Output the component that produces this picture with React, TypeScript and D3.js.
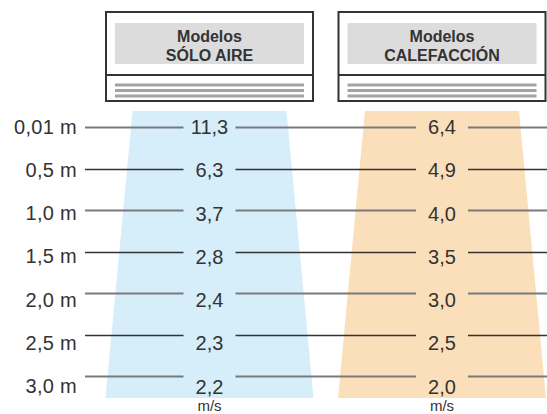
import { scalePoint, formatLocale } from "d3"

const heights = ["0,01 m", "0,5 m", "1,0 m", "1,5 m", "2,0 m", "2,5 m", "3,0 m"]
const models = ["SÓLO AIRE", "CALEFACCIÓN"]
const soloAire = [11.3, 6.3, 3.7, 2.8, 2.4, 2.3, 2.2]
const calefaccion = [6.4, 4.9, 4.0, 3.5, 3.0, 2.5, 2.0]
const unit = "m/s"

const series = [soloAire, calefaccion]
const fills = ["#d6edfa", "#fbdfbb"]

const fmt = formatLocale({
  decimal: ",",
  thousands: ".",
  grouping: [3],
  currency: ["", "€"],
}).format(".1f")

export default function App() {
  const width = 547
  const height = 414
  const font = "'Liberation Sans', Arial, Helvetica, sans-serif"

  const x = scalePoint<string>().domain(models).range([209.5, 442])
  const yLine = scalePoint<string>().domain(heights).range([127, 376])
  const yText = scalePoint<string>().domain(heights).range([126.5, 386])

  const boxW = 207
  const boxTop = 12
  const boxBottom = 101
  const divider = 75
  const inset = 9
  const trapTop = 111
  const trapBottom = 398
  const topHalf = 77
  const bottomHalf = 104
  const gap = 26

  const c0 = x(models[0])!
  const c1 = x(models[1])!
  const segments = [
    [85, c0 - gap],
    [c0 + gap, c1 - gap],
    [c1 + gap, width],
  ]

  return (
    <svg
      width={width}
      height={height}
      style={{ position: "absolute", left: 0, top: 0, display: "block" }}
      fontFamily={font}
    >
      {models.map((m, i) => {
        const cx = x(m)!
        return (
          <path
            key={"trap" + m}
            fill={fills[i]}
            d={`M${cx - topHalf},${trapTop}L${cx + topHalf},${trapTop}L${cx + bottomHalf},${trapBottom}L${cx - bottomHalf},${trapBottom}Z`}
          />
        )
      })}

      {heights.map((h, i) => {
        const y = Math.round(yLine(h)!) + 0.5
        return (
          <g key={"row" + h}>
            {segments.map(([a, b], j) => (
              <line
                key={j}
                x1={a}
                x2={b}
                y1={y}
                y2={y}
                stroke={i % 2 === 0 ? "#7a7a7a" : "#333"}
                strokeWidth={i % 2 === 0 ? 2 : 1.3}
              />
            ))}
            <text
              x={77}
              y={yText(h)! + 7}
              textAnchor="end"
              fontSize={20}
              letterSpacing={0.3}
              fill="#333"
            >
              {h}
            </text>
          </g>
        )
      })}

      {models.map((m, i) => (
        <g key={"vals" + m}>
          {series[i].map((v, k) => (
            <text
              key={k}
              x={x(m)!}
              y={yText(heights[k])! + 7.5}
              textAnchor="middle"
              fontSize={20}
              fill="#333"
            >
              {fmt(v)}
            </text>
          ))}
          <text
            x={x(m)!}
            y={411}
            textAnchor="middle"
            fontSize={15}
            fill="#333"
          >
            {unit}
          </text>
        </g>
      ))}

      {models.map((m) => {
        const cx = x(m)!
        const left = cx - boxW / 2
        return (
          <g key={"box" + m}>
            <rect
              x={left}
              y={boxTop}
              width={boxW}
              height={boxBottom - boxTop}
              fill="#fff"
              stroke="#333"
              strokeWidth={2}
            />
            <rect
              x={left + inset}
              y={23}
              width={boxW - inset * 2}
              height={41}
              fill="#dcdcdd"
            />
            <line
              x1={left}
              x2={left + boxW}
              y1={divider}
              y2={divider}
              stroke="#333"
              strokeWidth={2}
            />
            {[85, 90.5, 96].map((sy) => (
              <rect
                key={sy}
                x={left + inset}
                y={sy - 1.5}
                width={boxW - inset * 2}
                height={3}
                fill="#a3a3a3"
              />
            ))}
            <text
              x={cx}
              y={41.5}
              textAnchor="middle"
              fontSize={16}
              fontWeight="bold"
              fill="#333"
            >
              Modelos
            </text>
            <text
              x={cx}
              y={61}
              textAnchor="middle"
              fontSize={16}
              fontWeight="bold"
              fill="#333"
            >
              {m}
            </text>
          </g>
        )
      })}
    </svg>
  )
}
